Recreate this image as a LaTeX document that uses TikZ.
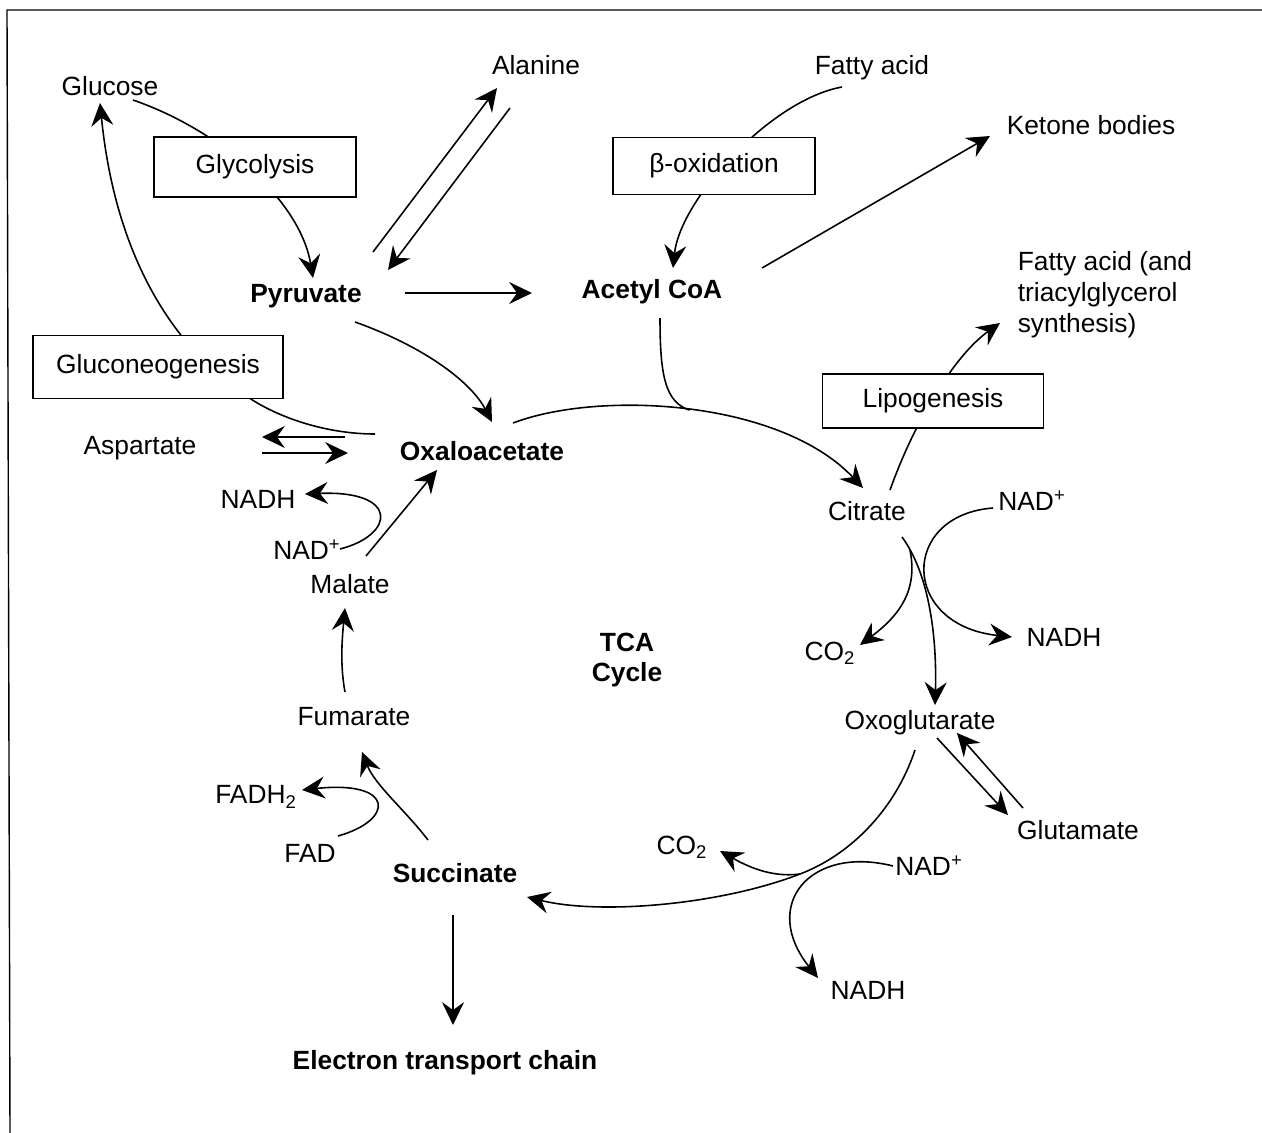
\documentclass[tikz,border=0pt]{standalone}
\usepackage{fontspec}
\setmainfont{Liberation Sans}
\usetikzlibrary{arrows.meta,calc}

\begin{document}
\begin{tikzpicture}[x=0.02cm,y=-0.02cm,line width=0.9pt,
                    >={Stealth[length=13pt,width=12.5pt,inset=4.5pt]},
                    main node/.style={inner sep=0pt,font=\fontsize{15}{17.6}\selectfont},
                    bold node/.style={inner sep=0pt,font=\fontsize{15}{17.6}\selectfont\bfseries},
                    box node/.style={main node,draw,fill=white,line width=0.8pt}]

  \useasboundingbox (0,0) rectangle (1262,1133);
  \draw[line width=0.8pt] (1262,10) -- (7,10) -- (10,1133);

  \node[main node] (glc) at (110,86) {Glucose};
  \node[main node] (ala) at (536,65) {Alanine};
  \node[main node] (fa) at (872,68) {Fatty acid};
  \node[main node] (keto) at (1091,125) {Ketone bodies};
  \node[bold node] (pyr) at (306,296) {Pyruvate};
  \node[bold node] (acoa) at (652,292) {Acetyl CoA};
  \node[main node,anchor=west,align=left] (fasyn) at (1017,295) {Fatty acid (and\\triacylglycerol\\synthesis)};
  \node[main node] (asp) at (140,448) {Aspartate};
  \node[bold node] (oaa) at (482,451) {Oxaloacetate};
  \node[main node] (cit) at (867,511) {Citrate};
  \node[main node] (nadA) at (1032,501) {NAD\textsuperscript{+}};
  \node[main node] (nadhA) at (258,499) {NADH};
  \node[main node] (nadB) at (307,550) {NAD\textsuperscript{+}};
  \node[main node] (mal) at (350,584) {Malate};
  \node[bold node,align=center] (tca) at (627,660) {TCA\\Cycle};
  \node[main node] (co2A) at (830,653) {CO\textsubscript{2}};
  \node[main node] (nadhB) at (1064,637) {NADH};
  \node[main node] (oxo) at (920,723) {Oxoglutarate};
  \node[main node] (fum) at (354,717) {Fumarate};
  \node[main node] (glu) at (1078,830) {Glutamate};
  \node[main node] (fadh) at (256,797) {FADH\textsubscript{2}};
  \node[main node] (fad) at (310,853) {FAD};
  \node[bold node] (suc) at (455,873) {Succinate};
  \node[main node] (co2B) at (682,847) {CO\textsubscript{2}};
  \node[main node] (nadC) at (929,866) {NAD\textsuperscript{+}};
  \node[main node] (nadhC) at (868,990) {NADH};
  \node[bold node] (etc) at (445,1063) {Electron transport chain};

  \draw[->] ($(glc)+(23,14)$) .. controls (220,130) and (300,200) .. ($(pyr)+(7,-18)$);
  \draw[->] ($(oaa)+(-107,-17)$) .. controls (330,434) and (285,420) .. (254,401)
            .. controls (186,359) and (117,273) .. ($(glc)+(-10,17)$);
  \draw[->] ($(pyr)+(67,-44)$) -- ($(ala)+(-39,23)$);
  \draw[->] ($(ala)+(-26,43)$) -- ($(pyr)+(82,-26)$);
  \draw[->] ($(pyr)+(99,-3)$) -- ($(acoa)+(-120,1)$);
  \draw[->] ($(fa)+(-30,19)$) .. controls (770,100) and (680,200) .. ($(acoa)+(21,-24)$);
  \draw[->] ($(acoa)+(110,-24)$) -- ($(keto)+(-101,11)$);
  \draw[->] ($(oaa)+(31,-28)$) .. controls (600,390) and (780,400) .. ($(cit)+(-4,-23)$) coordinate[pos=0.5] (merge);
  \draw ($(acoa)+(8,26)$) .. controls (660,375) and (665,402) .. (merge);
  \draw[->] ($(pyr)+(49,26)$) .. controls (420,345) and (470,380) .. ($(oaa)+(10,-29)$);
  \draw[->] ($(oaa)+(-137,-14)$) -- ($(asp)+(122,-11)$);
  \draw[->] ($(asp)+(122,5)$) -- ($(oaa)+(-134,2)$);
  \draw[->] ($(mal)+(16,-28)$) -- ($(oaa)+(-45,19)$);
  \draw[->] ($(nadB)+(33,-1)$) .. controls (395,535) and (400,490) .. ($(nadhA)+(47,-5)$);
  \draw[->] ($(fum)+(-9,-25)$) .. controls (340,665) and (342,640) .. ($(mal)+(-5,24)$);
  \draw[->] ($(suc)+(-27,-33)$) .. controls (405,810) and (375,785) .. ($(fum)+(8,35)$);
  \draw[->] ($(fad)+(28,-17)$) .. controls (395,820) and (395,780) .. ($(fadh)+(46,-7)$);
  \draw[->] ($(cit)+(35,26)$) .. controls (930,575) and (937,640) .. ($(oxo)+(15,-18)$);
  \draw[->] ($(nadA)+(-39,7)$) .. controls (900,515) and (900,625) .. ($(nadhB)+(-52,0)$);
  \draw[->] ($(cit)+(43,39)$) .. controls (918,590) and (900,615) .. ($(co2A)+(30,-8)$);
  \draw[->] ($(oxo)+(17,15)$) -- ($(glu)+(-70,-15)$);
  \draw[->] ($(glu)+(-55,-22)$) -- ($(oxo)+(37,10)$);
  \draw[->] ($(oxo)+(-5,27)$) .. controls (895,810) and (850,855) .. (800,874) coordinate (cross)
            .. controls (720,905) and (600,915) .. ($(suc)+(72,24)$);
  \draw[->] ($(nadC)+(-36,0)$) .. controls (810,845) and (760,905) .. ($(nadhC)+(-50,-12)$);
  \draw[->] (cross) .. controls (770,878) and (745,865) .. ($(co2B)+(38,4)$);
  \draw[->] ($(suc)+(-2,42)$) -- ($(etc)+(8,-38)$);
  \draw[->] ($(cit)+(23,-21)$) .. controls (915,420) and (955,355) .. ($(fasyn.west)+(-17,28)$);

  \node[box node,minimum width=4.04cm,minimum height=1.2cm] (glyc) at (255,167) {Glycolysis};
  \node[box node,minimum width=4.04cm,minimum height=1.14cm] (boxid) at (714,166) {β-oxidation};
  \node[box node,minimum width=5cm,minimum height=1.26cm] (gng) at (158,367) {Gluconeogenesis};
  \node[box node,minimum width=4.42cm,minimum height=1.08cm] (lipo) at (933,401) {Lipogenesis};
\end{tikzpicture}
\end{document}
